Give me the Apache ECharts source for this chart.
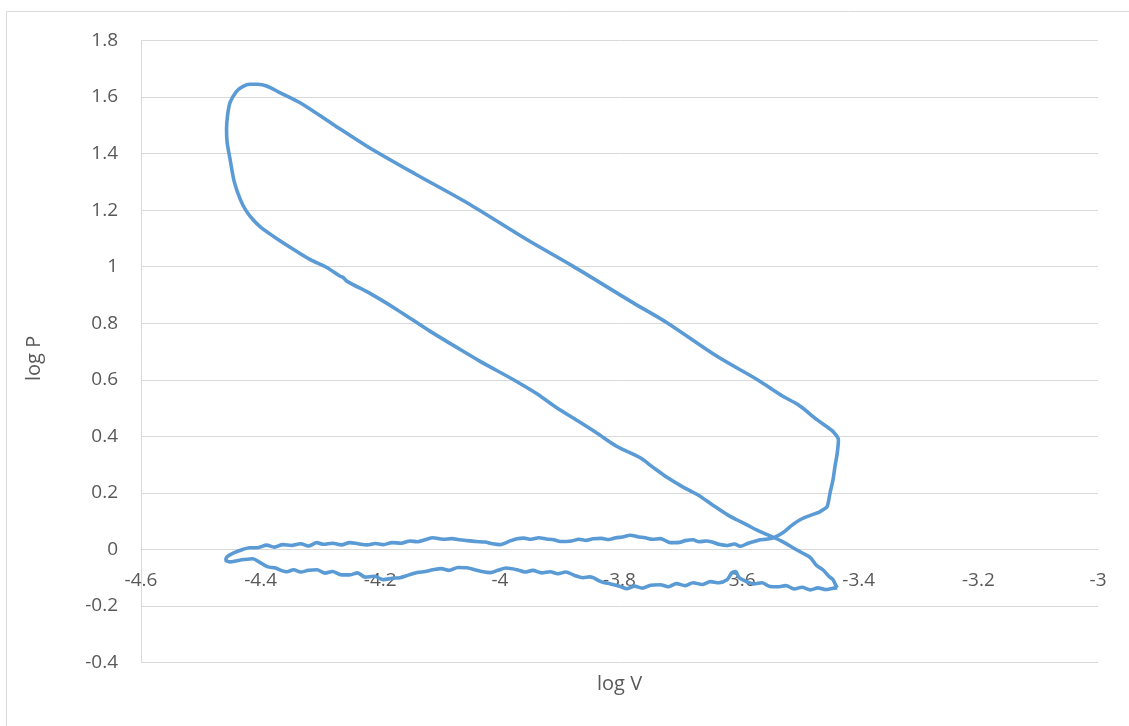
<!DOCTYPE html>
<html>
<head>
<meta charset="utf-8">
<script src="https://cdn.jsdelivr.net/npm/echarts@6/dist/echarts.min.js"></script>
<style>
html,body{margin:0;padding:0;background:#fff;}
#c{width:1129px;height:726px;}
</style>
</head>
<body>
<div id="c"></div>
<script>
// axis ticks
var xMin = -4.6, xMax = -3, xStep = 0.2;
var yMin = -0.4, yMax = 1.8, yStep = 0.2;
var xTitle = 'log V';
var yTitle = 'log P';

// cycle phases: [log V, log P]
var compression = [
[-3.436,-0.136],[-3.440,-0.120],[-3.443,-0.107],[-3.450,-0.095],[-3.460,-0.072],[-3.470,-0.058],[-3.481,-0.029],[-3.495,-0.012],[-3.510,0.006],[-3.530,0.030],[-3.553,0.052],[-3.570,0.068],[-3.587,0.087],[-3.603,0.104],[-3.620,0.123],[-3.645,0.158],[-3.670,0.194],[-3.695,0.222],[-3.720,0.254],[-3.745,0.292],[-3.766,0.325],[-3.805,0.365],[-3.838,0.412],[-3.870,0.455],[-3.905,0.501],[-3.940,0.553],[-3.978,0.601],[-4.033,0.665],[-4.075,0.718],[-4.117,0.772],[-4.172,0.848],[-4.215,0.903],[-4.256,0.949],[-4.262,0.962],[-4.267,0.966],[-4.290,0.998],[-4.317,1.025],[-4.350,1.068],[-4.379,1.108],[-4.400,1.140],[-4.413,1.167],[-4.425,1.200],[-4.434,1.238],[-4.444,1.300],[-4.451,1.379],[-4.456,1.440],[-4.457,1.486],[-4.455,1.540],[-4.451,1.581],[-4.440,1.621],[-4.430,1.637],[-4.418,1.645],[-4.405,1.645],[-4.390,1.639]
];
var expansion = [
[-4.368,1.616],[-4.334,1.580],[-4.280,1.505],[-4.223,1.427],[-4.140,1.326],[-4.055,1.226],[-3.955,1.096],[-3.878,1.002],[-3.777,0.872],[-3.720,0.801],[-3.637,0.683],[-3.570,0.601],[-3.527,0.542],[-3.500,0.510],[-3.470,0.459],[-3.452,0.432],[-3.443,0.417],[-3.434,0.388]
];
var blowdown = [
[-3.436,0.340],[-3.440,0.290],[-3.443,0.247],[-3.448,0.200],[-3.453,0.151],[-3.460,0.140],[-3.465,0.133],[-3.480,0.121],[-3.498,0.105],[-3.512,0.085],[-3.527,0.059],[-3.543,0.041]
];
var exhaust = [
[-3.555,0.036],[-3.565,0.034],[-3.575,0.028],[-3.585,0.022],[-3.598,0.011],[-3.608,0.019],[-3.620,0.014],[-3.632,0.017],[-3.645,0.026],[-3.655,0.030],[-3.667,0.027],[-3.677,0.034],[-3.690,0.031],[-3.700,0.025],[-3.715,0.024],[-3.725,0.033],[-3.732,0.038],[-3.745,0.036],[-3.757,0.041],[-3.770,0.045],[-3.782,0.050],[-3.795,0.044],[-3.806,0.041],[-3.818,0.035],[-3.830,0.039],[-3.844,0.038],[-3.856,0.032],[-3.868,0.036],[-3.880,0.030],[-3.899,0.028],[-3.910,0.034],[-3.922,0.037],[-3.935,0.041],[-3.948,0.036],[-3.960,0.040],[-3.971,0.038],[-3.983,0.030],[-3.992,0.022],[-4.000,0.017],[-4.012,0.020],[-4.025,0.026],[-4.040,0.028],[-4.055,0.031],[-4.068,0.034],[-4.080,0.038],[-4.095,0.036],[-4.112,0.041],[-4.125,0.034],[-4.138,0.027],[-4.150,0.030],[-4.165,0.022],[-4.180,0.024],[-4.195,0.017],[-4.208,0.021],[-4.222,0.016],[-4.237,0.020],[-4.251,0.024],[-4.265,0.016],[-4.280,0.022],[-4.295,0.018],[-4.306,0.024],[-4.320,0.012],[-4.333,0.020],[-4.348,0.014],[-4.363,0.017],[-4.377,0.008],[-4.390,0.015],[-4.405,0.006],[-4.418,0.006],[-4.430,0.000],[-4.445,-0.012],[-4.456,-0.026]
];
var intake = [
[-4.458,-0.038],[-4.451,-0.044],[-4.440,-0.040],[-4.428,-0.036],[-4.413,-0.033],[-4.402,-0.045],[-4.389,-0.061],[-4.375,-0.066],[-4.365,-0.075],[-4.356,-0.079],[-4.345,-0.072],[-4.333,-0.080],[-4.320,-0.074],[-4.306,-0.072],[-4.292,-0.084],[-4.280,-0.078],[-4.265,-0.090],[-4.251,-0.090],[-4.238,-0.083],[-4.225,-0.098],[-4.210,-0.095],[-4.195,-0.107],[-4.180,-0.102],[-4.167,-0.100],[-4.152,-0.090],[-4.138,-0.082],[-4.125,-0.078],[-4.112,-0.072],[-4.098,-0.068],[-4.085,-0.074],[-4.070,-0.064],[-4.055,-0.065],[-4.042,-0.072],[-4.028,-0.079],[-4.016,-0.082],[-4.003,-0.074],[-3.990,-0.066],[-3.971,-0.072],[-3.958,-0.080],[-3.945,-0.074],[-3.930,-0.083],[-3.916,-0.079],[-3.903,-0.086],[-3.890,-0.080],[-3.875,-0.092],[-3.861,-0.100],[-3.850,-0.097],[-3.844,-0.100],[-3.830,-0.115],[-3.815,-0.122],[-3.800,-0.130],[-3.787,-0.139],[-3.775,-0.130],[-3.762,-0.137],[-3.748,-0.127],[-3.732,-0.125],[-3.718,-0.132],[-3.705,-0.121],[-3.690,-0.128],[-3.677,-0.118],[-3.662,-0.124],[-3.648,-0.114],[-3.634,-0.118],[-3.620,-0.107],[-3.612,-0.082],[-3.606,-0.078],[-3.600,-0.100],[-3.587,-0.114],[-3.575,-0.122],[-3.562,-0.118],[-3.550,-0.130],[-3.536,-0.132],[-3.522,-0.128],[-3.508,-0.140],[-3.495,-0.134],[-3.481,-0.143],[-3.468,-0.136],[-3.455,-0.142],[-3.445,-0.138],[-3.436,-0.136]
];

var cycle = [].concat(compression, expansion, blowdown, exhaust, intake);

var FONT = '"Open Sans", "Liberation Sans", sans-serif';
var TXT = '#595959';
var GRID = '#D9D9D9';

var gridTop = 40.5, gridBottom = 63.5, H = 726;
var plotH = H - gridTop - gridBottom;
// put the category axis line where log P = 0
var xAxisOffset = -plotH * (0 - yMin) / (yMax - yMin);

var chart = echarts.init(document.getElementById('c'), null, {renderer: 'canvas'});
chart.setOption({
  animation: false,
  backgroundColor: '#ffffff',
  grid: {left: 141, right: 31, top: gridTop, bottom: gridBottom, containLabel: false},
  xAxis: {
    type: 'value', min: xMin, max: xMax, interval: xStep,
    position: 'bottom', offset: xAxisOffset,
    axisLine: {show: true, onZero: false, lineStyle: {color: GRID, width: 1}},
    axisTick: {show: false},
    splitLine: {show: false},
    axisLabel: {color: TXT, fontFamily: FONT, fontSize: 19, margin: 22,
      formatter: function (v) { return String(Math.round(v * 10) / 10); }}
  },
  yAxis: {
    type: 'value', min: yMin, max: yMax, interval: yStep,
    axisLine: {show: true, onZero: false, lineStyle: {color: GRID, width: 1}},
    axisTick: {show: false},
    splitLine: {show: true, lineStyle: {color: GRID, width: 1}},
    axisLabel: {color: TXT, fontFamily: FONT, fontSize: 19, margin: 23,
      formatter: function (v) { return String(Math.round(v * 10) / 10); }}
  },
  graphic: [
    {type: 'line', shape: {x1: 6.5, y1: 11.5, x2: 1129, y2: 11.5}, style: {stroke: GRID, lineWidth: 1}, silent: true},
    {type: 'line', shape: {x1: 6.5, y1: 11.5, x2: 6.5, y2: 726}, style: {stroke: GRID, lineWidth: 1}, silent: true},
    {type: 'text', left: 597, top: 674, style: {text: xTitle, fill: TXT, font: '20px ' + FONT}},
    {type: 'text', x: 24, y: 381, rotation: Math.PI / 2, style: {text: yTitle, fill: TXT, font: '20px ' + FONT}}
  ],
  series: [{
    type: 'line',
    data: cycle,
    showSymbol: false,
    symbol: 'none',
    smooth: 0.3,
    lineStyle: {color: '#5B9BD5', width: 3.6},
    z: 3
  }]
});
</script>
</body>
</html>
